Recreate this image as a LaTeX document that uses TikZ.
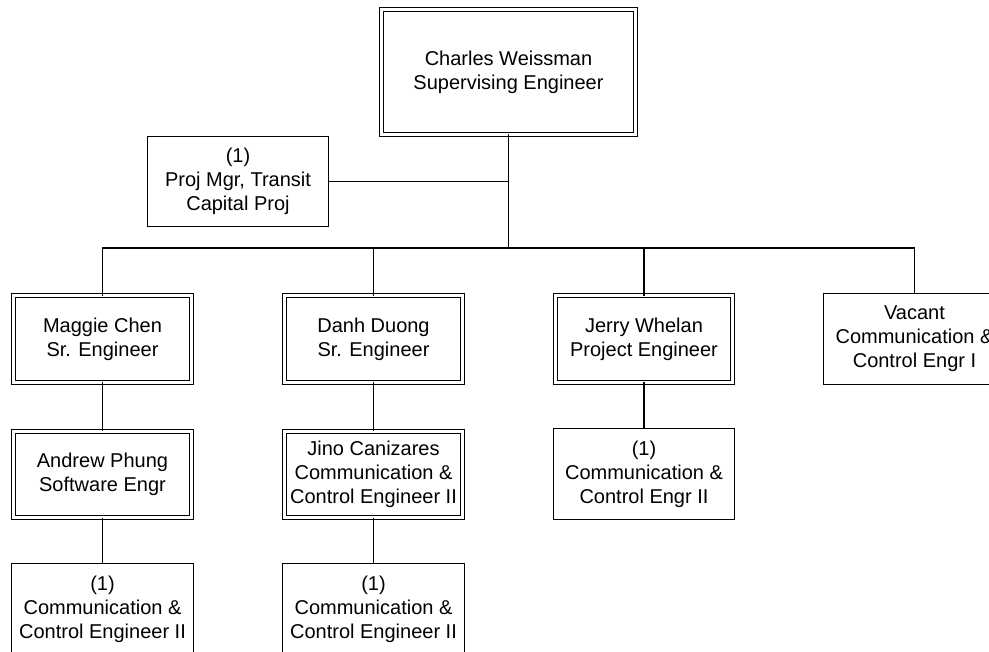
\documentclass[tikz,border=0pt]{standalone}
\usepackage{fontspec}
\setmainfont{Liberation Sans}
\usetikzlibrary{positioning, calc}
\tikzset{every node/.style={font=\fontsize{15}{18}\selectfont},
  post/.style={draw, line width=0.8pt, align=center, inner sep=0pt, minimum width=136pt, minimum height=68pt},
  lead/.style={post, line width=0.75pt, double, double distance=2.1pt, minimum width=133pt, minimum height=65pt},
  link/.style={line width=1.1pt, line cap=rect}}

\begin{document}
\begin{tikzpicture}[x=0.75pt, y=-0.75pt]
    \useasboundingbox (0,0) rectangle (989,652);
    \clip (0,0) rectangle (989,652);
    % supervisor and staff
    \node [lead, minimum width=191pt, minimum height=94pt] (weissman) at (508.5,72) {Charles Weissman\\Supervising Engineer};
    \node [post] (projmgr) at (238,181.5) {(1)\\Proj Mgr, Transit\\Capital Proj};
    \coordinate (bus) at (weissman.south |- 0,248);
    % first level
    \node [lead] (chen) at (102.5,339) {Maggie Chen\\Sr. Engineer};
    \node [lead] (duong) at (373.5,339) {Danh Duong\\Sr. Engineer};
    \node [lead] (whelan) at (644,339) {Jerry Whelan\\Project Engineer};
    \node [post] (vacant) at (914.5,339) {Vacant\\Communication \&\\Control Engr I};
    % second level
    \node [lead] (phung) at (102.5,474.5) {Andrew Phung\\Software Engr};
    \node [lead] (canizares) at (373.5,474.5) {Jino Canizares\\Communication \&\\Control Engineer II};
    \node [post] (whelanpos) at (644,474) {(1)\\Communication \&\\Control Engr II};
    % third level
    \node [post] (phungpos) at (102.5,609) {(1)\\Communication \&\\Control Engineer II};
    \node [post] (canizarespos) at (373.5,609) {(1)\\Communication \&\\Control Engineer II};

    \draw [link] (weissman.south) -- (bus);
    \draw [link] (projmgr.east) -- (projmgr.east -| weissman.south);
    \draw [link] (chen.north) -- (chen.north |- bus) -- (vacant.north |- bus) -- (vacant.north);
    \draw [link] (duong.north) -- (duong.north |- bus);
    \draw [link] (whelan.north) -- (whelan.north |- bus);
    \draw [link] (chen) -- (phung) -- (phungpos);
    \draw [link] (duong) -- (canizares) -- (canizarespos);
    \draw [link] (whelan) -- (whelanpos);
\end{tikzpicture}
\end{document}
